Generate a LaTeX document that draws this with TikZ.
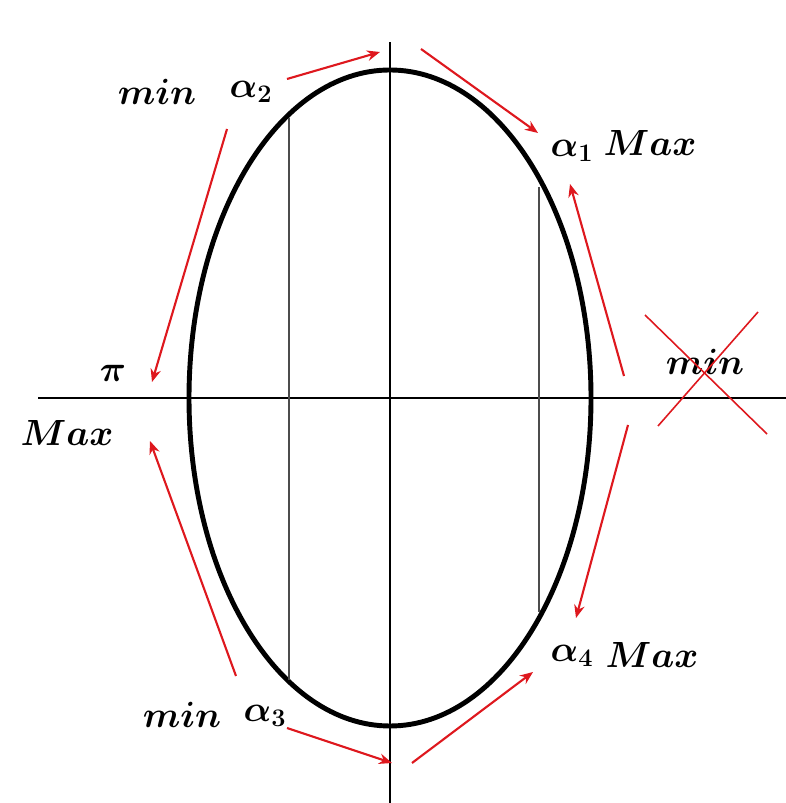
\documentclass[tikz,border=0pt]{standalone}
\usepackage{amsmath,amssymb}
\usepackage{tikz}
\usetikzlibrary{arrows.meta}

\definecolor{arrred}{RGB}{222,24,30}

\begin{document}
\begin{tikzpicture}[x=0.02cm, y=0.02cm, >={Stealth[length=2.6mm, width=2.1mm]},
      lbl/.style={font=\fontsize{22}{26}\selectfont\boldmath, inner sep=1pt},
      arr/.style={->, draw=arrred, line width=1.2pt},
      ax/.style={line width=0.8pt},
      chord/.style={draw=black!70, line width=0.6pt}]

    \useasboundingbox (0,0) rectangle (786,803);

    % axes and the ellipse
    \coordinate (o) at (390,405);
    \draw[ax] (38,405) -- (786,405);
    \draw[ax] (390,0) -- (390,761);
    \draw[line width=2.8pt] (o) ellipse [x radius=201, y radius=328];

    % vertical chords
    \draw[chord] (289,123) -- (289,685);
    \draw[chord] (539,191) -- (539,616);

    % labels
    \node[lbl] (min1) at (157,711) {$min$};
    \node[lbl] (al2)  at (251,711) {$\alpha_2$};
    \node[lbl] (al1)  at (572,652) {$\alpha_1$};
    \node[lbl] (max1) at (650,660) {$Max$};
    \node[lbl] (pi)   at (113,430) {$\pi$};
    \node[lbl] (max2) at (67,370)  {$Max$};
    \node[lbl] (min2) at (705,441) {$min$};
    \node[lbl] (al4)  at (572,147) {$\alpha_4$};
    \node[lbl] (max4) at (652,148) {$Max$};
    \node[lbl] (min3) at (182,88)  {$min$};
    \node[lbl] (al3)  at (265,87)  {$\alpha_3$};

    % red arrows round the ellipse
    \coordinate (a1s) at (287,724); \coordinate (a1e) at (380,751);
    \coordinate (a2s) at (421,754); \coordinate (a2e) at (538,670);
    \coordinate (a3s) at (624,427); \coordinate (a3e) at (570,619);
    \coordinate (a4s) at (628,378); \coordinate (a4e) at (576,185);
    \coordinate (a5s) at (412,40);  \coordinate (a5e) at (533,131);
    \coordinate (a6s) at (287,75);  \coordinate (a6e) at (392,40);
    \coordinate (a7s) at (236,127); \coordinate (a7e) at (150,362);
    \coordinate (a8s) at (227,674); \coordinate (a8e) at (152,421);
    \foreach \i in {1,...,8}
        \draw[arr] (a\i s) -- (a\i e);

    % crossed-out min
    \draw[arrred, line width=0.9pt] (645,488) -- (767,369);
    \draw[arrred, line width=0.9pt] (758,491) -- (658,377);

\end{tikzpicture}
\end{document}
